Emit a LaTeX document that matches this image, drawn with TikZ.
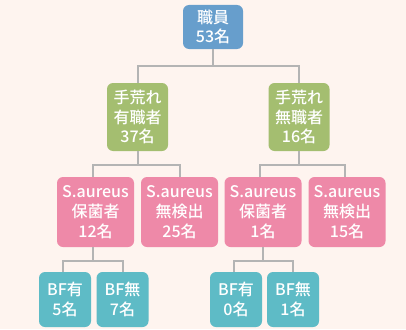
\documentclass[tikz,border=0pt]{standalone}
\usepackage{fontspec}
\setmainfont{Noto Sans CJK JP}[UprightFont=* Medium]
\usetikzlibrary{calc}
\definecolor{bg}{HTML}{FEF4EF}
\definecolor{cblue}{HTML}{679ECC}
\definecolor{cgreen}{HTML}{A4BE70}
\definecolor{cpink}{HTML}{EE89A8}
\definecolor{cteal}{HTML}{5EBBC6}
\definecolor{cline}{HTML}{B4B4B4}
\begin{document}
\begin{tikzpicture}[x=1pt,y=-1pt,
  box/.style={rectangle,rounded corners=6pt,inner sep=0pt,text=white,align=center,
    font=\fontsize{16}{19.8}\selectfont},
  topbox/.style={box,fill=cblue,minimum width=60pt,minimum height=44pt},
  greenbox/.style={box,fill=cgreen,minimum width=61pt,minimum height=68pt},
  pinkbox/.style={box,fill=cpink,minimum width=77pt,minimum height=70pt},
  bfbox/.style={box,fill=cteal,minimum width=52pt,minimum height=55pt},
  conn/.style={draw=cline,line width=2pt}]
\fill[bg] (0,0) rectangle (406,329);
\useasboundingbox (0,0) rectangle (406,329);
\node[topbox] (top) at (213,27) {職員\\53名};
\node[greenbox] (gL) at (137.5,117) {手荒れ\\有職者\\37名};
\node[greenbox] (gR) at (299,117) {手荒れ\\無職者\\16名};
\node[pinkbox] (p1) at (95.5,212) {S.aureus\\保菌者\\12名};
\node[pinkbox] (p2) at (179.5,212) {S.aureus\\無検出\\25名};
\node[pinkbox] (p3) at (263,212) {S.aureus\\保菌者\\1名};
\node[pinkbox] (p4) at (347,212) {S.aureus\\無検出\\15名};
\node[bfbox] (b1) at (65,299.5) {BF有\\5名};
\node[bfbox] (b2) at (122.5,299.5) {BF無\\7名};
\node[bfbox] (b3) at (236,299.5) {BF有\\0名};
\node[bfbox] (b4) at (293,299.5) {BF無\\1名};
% connectors
\draw[conn] (top.south) -- ++(0,17) -| (gL.north);
\draw[conn] (top.south) -- ++(0,17) -| (gR.north);
\draw[conn] (gL.south) -- ++(0,14) -| ([xshift=-2.5pt]p1.north);
\draw[conn] (gL.south) -- ++(0,14) -| (p2.north);
\draw[conn] (gR.south) -- ++(0,14) -| ([xshift=-3pt]p3.north);
\draw[conn] (gR.south) -- ++(0,14) -| ([xshift=-2pt]p4.north);
\draw[conn] ([xshift=-3pt]p1.south) -- ++(0,14) -| ([xshift=-2pt]b1.north);
\draw[conn] ([xshift=-3pt]p1.south) -- ++(0,14) -| (b2.north);
\draw[conn] (p3.south) -- ++(0,14) -| ([xshift=-2pt]b3.north);
\draw[conn] (p3.south) -- ++(0,14) -| (b4.north);
\end{tikzpicture}
\end{document}
